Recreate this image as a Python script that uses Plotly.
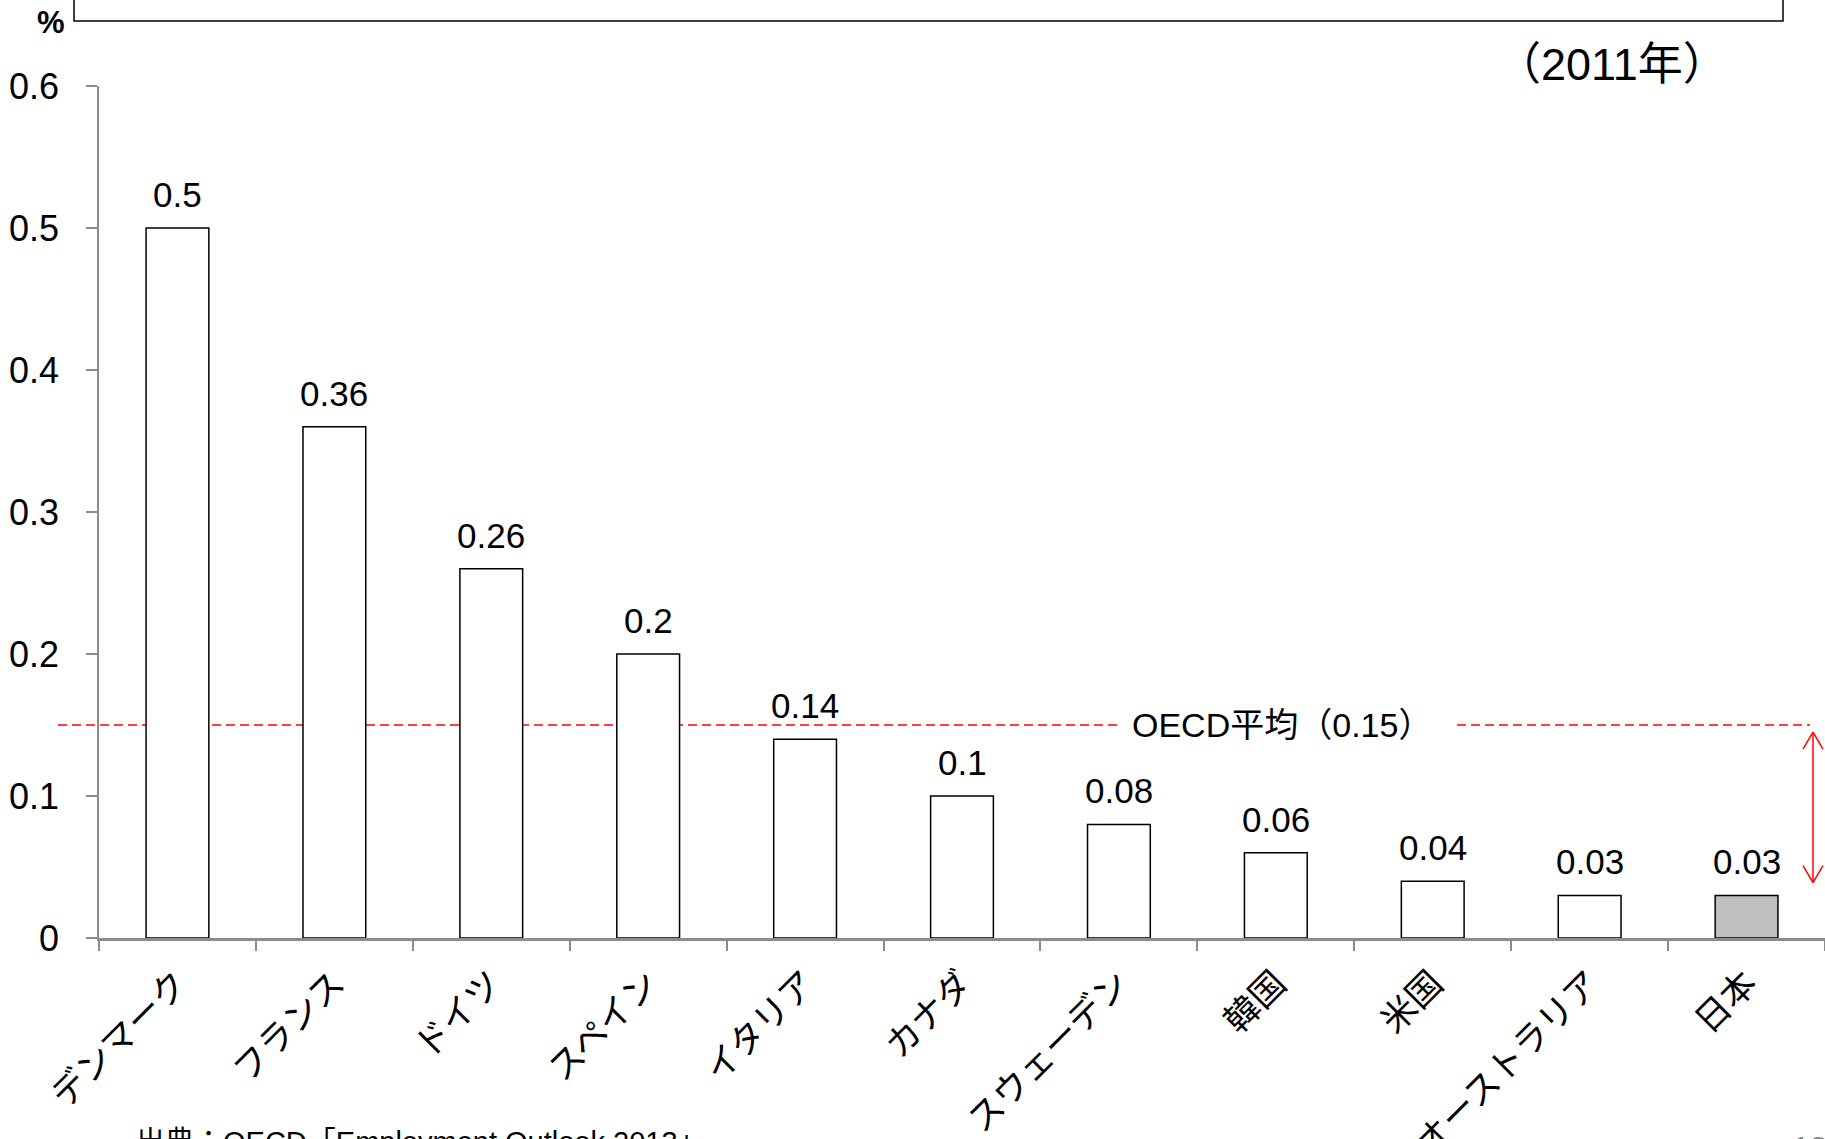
import plotly.graph_objects as go

# ---- data ----
countries = ["デンマーク", "フランス", "ドイツ", "スペイン", "イタリア", "カナダ",
             "スウェーデン", "韓国", "米国", "オーストラリア", "日本"]
values = [0.5, 0.36, 0.26, 0.2, 0.14, 0.1, 0.08, 0.06, 0.04, 0.03, 0.03]
highlight = "日本"
oecd_avg = 0.15
oecd_label = "OECD平均（0.15）"
year_label = "（2011年）"
unit_label = "%"
source_label = "出典：OECD「Employment Outlook 2013」"
page_label = "13"
gap_top, gap_bottom = 0.145, 0.039

# ---- layout geometry (pixels) ----
W, H = 1825, 1139
ML, MR, MT, MB = 99, 0, 86, 201
PW, PH = W - ML - MR, H - MT - MB


def px_x(x):
    return (x - ML) / PW


def px_y(y):
    return (H - MB - y) / PH


ARIAL = "Liberation Sans, Arial, sans-serif"
JP = "Noto Sans CJK JP, sans-serif"

colors = ["#BFBFBF" if c == highlight else "#FFFFFF" for c in countries]

fig = go.Figure()
fig.add_trace(go.Bar(
    x=countries, y=values,
    marker=dict(color=colors, line=dict(color="#000000", width=1.5)),
    width=0.4, showlegend=False, hoverinfo="x+y",
))

annotations = []
for c, v in zip(countries, values):
    annotations.append(dict(
        x=c, y=v, xref="x", yref="y", text=str(v), showarrow=False,
        yanchor="bottom", yshift=12, font=dict(family=ARIAL, size=35, color="#000"),
    ))

annotations.append(dict(
    x=px_x(1282), y=oecd_avg, xref="paper", yref="y", text=oecd_label,
    showarrow=False, xanchor="center", yanchor="middle",
    font=dict(family=ARIAL + ", Noto Sans CJK JP", size=34, color="#000"),
))
annotations.append(dict(
    x=px_x(51), y=px_y(22), xref="paper", yref="paper", text="<b>" + unit_label + "</b>",
    showarrow=False, xanchor="center", yanchor="middle",
    font=dict(family=ARIAL, size=31, color="#000"),
))
annotations.append(dict(
    x=px_x(1612), y=px_y(65), xref="paper", yref="paper", text=year_label,
    showarrow=False, xanchor="center", yanchor="middle",
    font=dict(family=ARIAL + ", Noto Sans CJK JP", size=45, color="#000"),
))
annotations.append(dict(
    x=px_x(134), y=px_y(1124), xref="paper", yref="paper", text=source_label,
    showarrow=False, xanchor="left", yanchor="top",
    font=dict(family=ARIAL + ", Noto Sans CJK JP", size=29, color="#000"),
))
annotations.append(dict(
    x=px_x(1790), y=px_y(1128), xref="paper", yref="paper", text=page_label,
    showarrow=False, xanchor="left", yanchor="top",
    font=dict(family=ARIAL, size=32, color="#888888"),
))

shapes = []
dash_line = dict(color="#FF0000", width=1.5, dash="9px,5px")
for x0, x1 in [(58, 1117), (1457, 1810)]:
    shapes.append(dict(type="line", xref="paper", yref="y",
                       x0=px_x(x0), x1=px_x(x1), y0=oecd_avg, y1=oecd_avg,
                       line=dash_line, layer="below"))
shapes.append(dict(type="rect", xref="paper", yref="paper",
                   x0=px_x(74), x1=px_x(1783), y0=px_y(21), y1=px_y(-20),
                   line=dict(color="#000000", width=1.5), fillcolor="rgba(0,0,0,0)"))
ax = px_x(1813)
hw = 10 / PW
hh = 17 / PH * 0.6
red = dict(color="#FF0000", width=1.5)
shapes.append(dict(type="line", xref="paper", yref="y", x0=ax, x1=ax,
                   y0=gap_bottom, y1=gap_top, line=red))
for (yt, sgn) in [(gap_top, -1), (gap_bottom, 1)]:
    for d in (-hw, hw):
        shapes.append(dict(type="line", xref="paper", yref="y",
                           x0=ax, y0=yt, x1=ax + d, y1=yt + sgn * hh, line=red))

fig.update_layout(
    width=W, height=H,
    margin=dict(l=ML, r=MR, t=MT, b=MB, pad=0, autoexpand=False),
    paper_bgcolor="#FFFFFF", plot_bgcolor="#FFFFFF",
    xaxis=dict(
        type="category", tickangle=-45, tickson="boundaries",
        ticks="outside", ticklen=10, tickcolor="#8C8C8C", tickwidth=1.5,
        showline=True, linecolor="#8C8C8C", linewidth=2.5,
        showgrid=False, zeroline=False, automargin=False,
        tickfont=dict(family=JP, size=35, color="#000"),
        ticklabelstandoff=8,
        range=[-0.5, len(countries) - 0.5],
    ),
    yaxis=dict(
        range=[0, 0.6], dtick=0.1, tick0=0,
        ticks="outside", ticklen=11, tickcolor="#8C8C8C", tickwidth=1.5,
        showline=True, linecolor="#8C8C8C", linewidth=1.5,
        showgrid=False, zeroline=False, automargin=False,
        tickfont=dict(family=ARIAL, size=36, color="#000"),
        ticklabelstandoff=20,
    ),
    annotations=annotations,
    shapes=shapes,
)

fig.write_html("out.html")
